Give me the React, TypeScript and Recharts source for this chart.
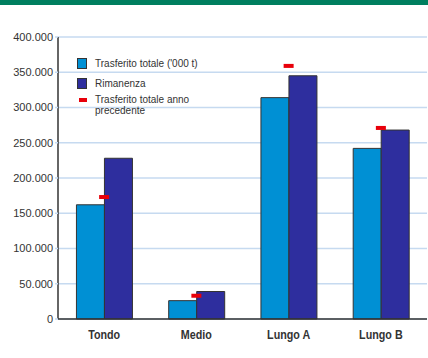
import React from "react";
import { Bar, CartesianGrid, ComposedChart, Line, XAxis, YAxis } from "recharts";

const categories = ["Tondo", "Medio", "Lungo A", "Lungo B"];
const trasferito = [162000, 26000, 314000, 242000];
const rimanenza = [228000, 39000, 345000, 268000];
const annoPrecedente = [173000, 33000, 359000, 271000];
const yTicks = [0, 50000, 100000, 150000, 200000, 250000, 300000, 350000, 400000];

const data = categories.map((name, i) => ({
  name,
  trasferito: trasferito[i],
  rimanenza: rimanenza[i],
  prev: annoPrecedente[i],
}));

const fmt = (v: number) => (v === 0 ? "0" : v.toLocaleString("de-DE"));

const RedDash = (props: any) => {
  const { cx, cy } = props;
  if (cx == null || cy == null) return null;
  return <rect x={cx - 5} y={cy - 2} width={10} height={4} fill="#e8000a" />;
};

// condensed bold category label
const CatTick = (props: any) => {
  const { x, y, payload } = props;
  return (
    <g transform={`translate(${x},${y + 12}) scale(0.86,1)`}>
      <text
        x={0}
        y={0}
        textAnchor="middle"
        fill="#333"
        fontSize={12.5}
        fontWeight="bold"
        fontFamily="'Liberation Sans', Arial, sans-serif"
      >
        {payload.value}
      </text>
    </g>
  );
};

const LegendBox = () => (
  <div
    style={{
      position: "absolute",
      left: 77,
      top: 57,
      fontFamily: "'Liberation Sans', Arial, sans-serif",
      fontSize: 10,
      color: "#333",
      lineHeight: "11px",
    }}
  >
    <div style={{ display: "flex", alignItems: "center", height: 12 }}>
      <span style={{ width: 8, height: 9, background: "#0090d4", border: "1px solid #333", marginRight: 8 }} />
      Trasferito totale ('000 t)
    </div>
    <div style={{ display: "flex", alignItems: "center", height: 12, marginTop: 8 }}>
      <span style={{ width: 8, height: 9, background: "#2e2e9e", border: "1px solid #333", marginRight: 8 }} />
      Rimanenza
    </div>
    <div style={{ display: "flex", alignItems: "flex-start", marginTop: 5 }}>
      <span style={{ width: 8, height: 4, background: "#e8000a", marginLeft: 2, marginRight: 8, marginTop: 4 }} />
      <span>
        Trasferito totale anno
        <br />
        precedente
      </span>
    </div>
  </div>
);

const App = () => {
  return (
    <div style={{ position: "absolute", left: 0, top: 0, width: 428, height: 358, background: "#fff" }}>
      <div style={{ position: "absolute", left: 0, top: 0, width: 428, height: 5, background: "#007f5f" }} />
      <ComposedChart
        width={428}
        height={358}
        data={data}
        margin={{ top: 37, right: 1, left: 0, bottom: 0 }}
        barCategoryGap="20%"
        barGap={0}
      >
        <CartesianGrid vertical={false} stroke="#c6daf0" strokeWidth={1.5} />
        <XAxis
          dataKey="name"
          height={39}
          axisLine={{ stroke: "#333", strokeWidth: 1.5 }}
          tickLine={false}
          tick={<CatTick />}
        />
        <XAxis xAxisId="top" orientation="top" dataKey="name" height={0} tick={false} tickLine={false} axisLine={{ stroke: "#333", strokeWidth: 1.5 }} />
        <YAxis
          width={58}
          domain={[0, 400000]}
          ticks={yTicks}
          tickFormatter={fmt}
          interval={0}
          axisLine={{ stroke: "#333", strokeWidth: 1.5 }}
          tickLine={{ stroke: "#c6daf0", strokeWidth: 1.5 }}
          tickSize={3}
          tick={{ fill: "#333", fontSize: 11, fontFamily: "'Liberation Sans', Arial, sans-serif" }}
        />
        <YAxis yAxisId="right" orientation="right" width={0} domain={[0, 400000]} tick={false} tickLine={false} axisLine={{ stroke: "#333", strokeWidth: 1.5 }} />
        <Bar dataKey="trasferito" fill="#0090d4" stroke="#333" strokeWidth={1} isAnimationActive={false} />
        <Bar dataKey="rimanenza" fill="#2e2e9e" stroke="#333" strokeWidth={1} isAnimationActive={false} />
        <Line dataKey="prev" stroke="none" dot={<RedDash />} activeDot={false} isAnimationActive={false} />
      </ComposedChart>
      <LegendBox />
    </div>
  );
};

export default App;
